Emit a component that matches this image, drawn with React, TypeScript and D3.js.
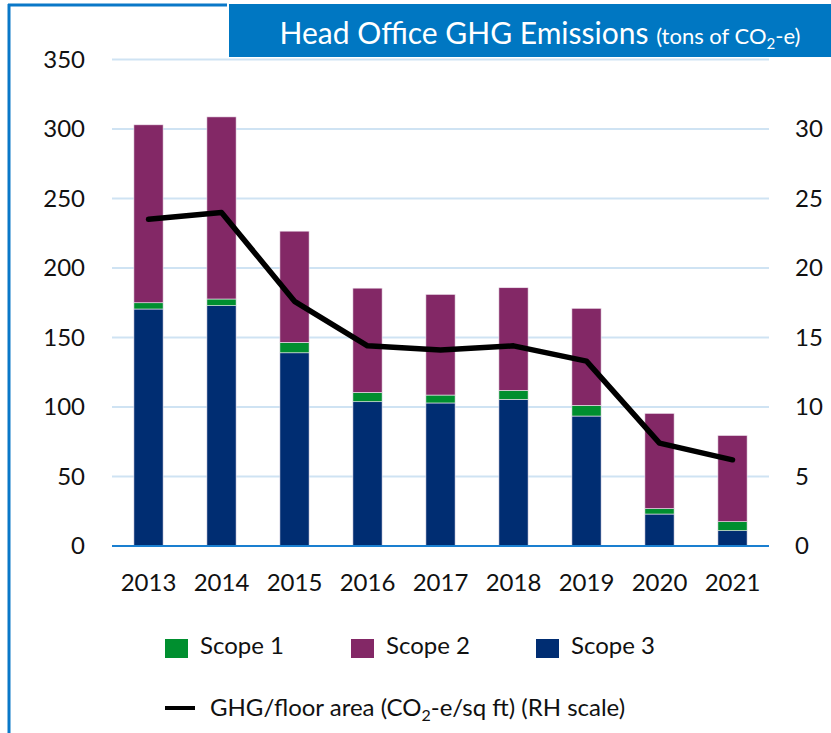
import React from "react";
import * as d3 from "d3";

// chart data
const years = ["2013", "2014", "2015", "2016", "2017", "2018", "2019", "2020", "2021"];
const scope1 = [4.5, 4.8, 7.5, 6.7, 5.7, 6.5, 7.7, 3.9, 6.5];
const scope2 = [128, 131, 80, 75, 72.4, 73.8, 69.8, 68.5, 62];
const scope3 = [170.5, 172.9, 139, 103.8, 102.9, 105.5, 93.5, 23, 11];
const intensity = [23.5, 24.0, 17.6, 14.4, 14.1, 14.4, 13.3, 7.4, 6.2];
const leftTicks = [0, 50, 100, 150, 200, 250, 300, 350];
const rightTicks = [0, 5, 10, 15, 20, 25, 30];

const FONT = "Lato, 'Liberation Sans', sans-serif";
const colors = { s1: "#008f2f", s2: "#832866", s3: "#002d72" };

export default function App() {
  const width = 831;
  const height = 733;
  const left = 112;
  const right = 769;
  const top = 59.5;
  const bottom = 546;

  const x = d3.scaleBand<string>().domain(years).range([left, right]).paddingInner(0.6).paddingOuter(0.3);
  const y = d3.scaleLinear().domain([0, 350]).range([bottom, top]);
  const y2 = d3.scaleLinear().domain([0, 35]).range([bottom, top]);

  const rows = years.map((yr, i) => ({ yr, s1: scope1[i], s2: scope2[i], s3: scope3[i] }));
  const stack = d3.stack<any>().keys(["s3", "s1", "s2"])(rows);

  const line = d3
    .line<number>()
    .x((_, i) => (x(years[i]) as number) + x.bandwidth() / 2)
    .y((d) => y2(d));

  return (
    <svg width={width} height={height} style={{ position: "absolute", left: 0, top: 0, display: "block" }} fontFamily={FONT}>
      <rect x={0} y={0} width={width} height={height} fill="#fff" />
      {/* frame */}
      <line x1={9} y1={4} x2={9} y2={height} stroke="#0a78c8" strokeWidth={3} />
      <line x1={8} y1={5} x2={227} y2={5} stroke="#0a78c8" strokeWidth={3} />
      <rect x={229} y={4} width={width - 229} height={53} fill="#0077c2" />
      <text x={540} y={44} textAnchor="middle" fill="#fff" fontSize={30}>
        Head Office GHG Emissions{" "}
        <tspan fontSize={22}>(tons of CO</tspan>
        <tspan fontSize={15} dy={5}>2</tspan>
        <tspan fontSize={22} dy={-5}>-e)</tspan>
      </text>

      {/* grid */}
      {leftTicks.filter((t) => t > 0).map((t) => (
        <line key={t} x1={left} x2={right} y1={y(t)} y2={y(t)} stroke="#cfe3f3" strokeWidth={2} />
      ))}
      {leftTicks.map((t) => (
        <text key={t} x={85} y={y(t)} dy="0.35em" textAnchor="end" fontSize={24} fill="#111">
          {t}
        </text>
      ))}
      {rightTicks.map((t) => (
        <text key={t} x={795} y={y2(t)} dy="0.35em" textAnchor="start" fontSize={24} fill="#111">
          {t}
        </text>
      ))}

      {/* bars */}
      {stack.map((layer) => (
        <g key={layer.key} fill={(colors as any)[layer.key]}>
          {layer.map((d, i) => (
            <rect
              key={i}
              x={x(years[i])}
              width={x.bandwidth()}
              y={y(d[1])}
              height={y(d[0]) - y(d[1])}
              stroke="#f0e6f0"
              strokeWidth={0.6}
            />
          ))}
        </g>
      ))}
      <line x1={left} x2={right} y1={bottom} y2={bottom} stroke="#1a7fd0" strokeWidth={2} />

      {/* line */}
      <path d={line(intensity) || ""} fill="none" stroke="#000" strokeWidth={5.5} strokeLinejoin="round" strokeLinecap="round" />

      {years.map((yr) => (
        <text key={yr} x={(x(yr) as number) + x.bandwidth() / 2} y={591} textAnchor="middle" fontSize={24} fill="#111">
          {yr}
        </text>
      ))}

      {/* legend */}
      {[
        { label: "Scope 1", c: colors.s1, x0: 165 },
        { label: "Scope 2", c: colors.s2, x0: 351 },
        { label: "Scope 3", c: colors.s3, x0: 536 },
      ].map((l) => (
        <g key={l.label}>
          <rect x={l.x0} y={639} width={23} height={19} fill={l.c} />
          <text x={l.x0 + 35} y={654} fontSize={24} fill="#111">
            {l.label}
          </text>
        </g>
      ))}
      <line x1={165} x2={195} y1={708} y2={708} stroke="#000" strokeWidth={4} />
      <text x={210} y={716} fontSize={24} fill="#111">
        GHG/floor area (CO<tspan fontSize={16} dy={5}>2</tspan>
        <tspan dy={-5}>-e/sq ft) (RH scale)</tspan>
      </text>
    </svg>
  );
}
